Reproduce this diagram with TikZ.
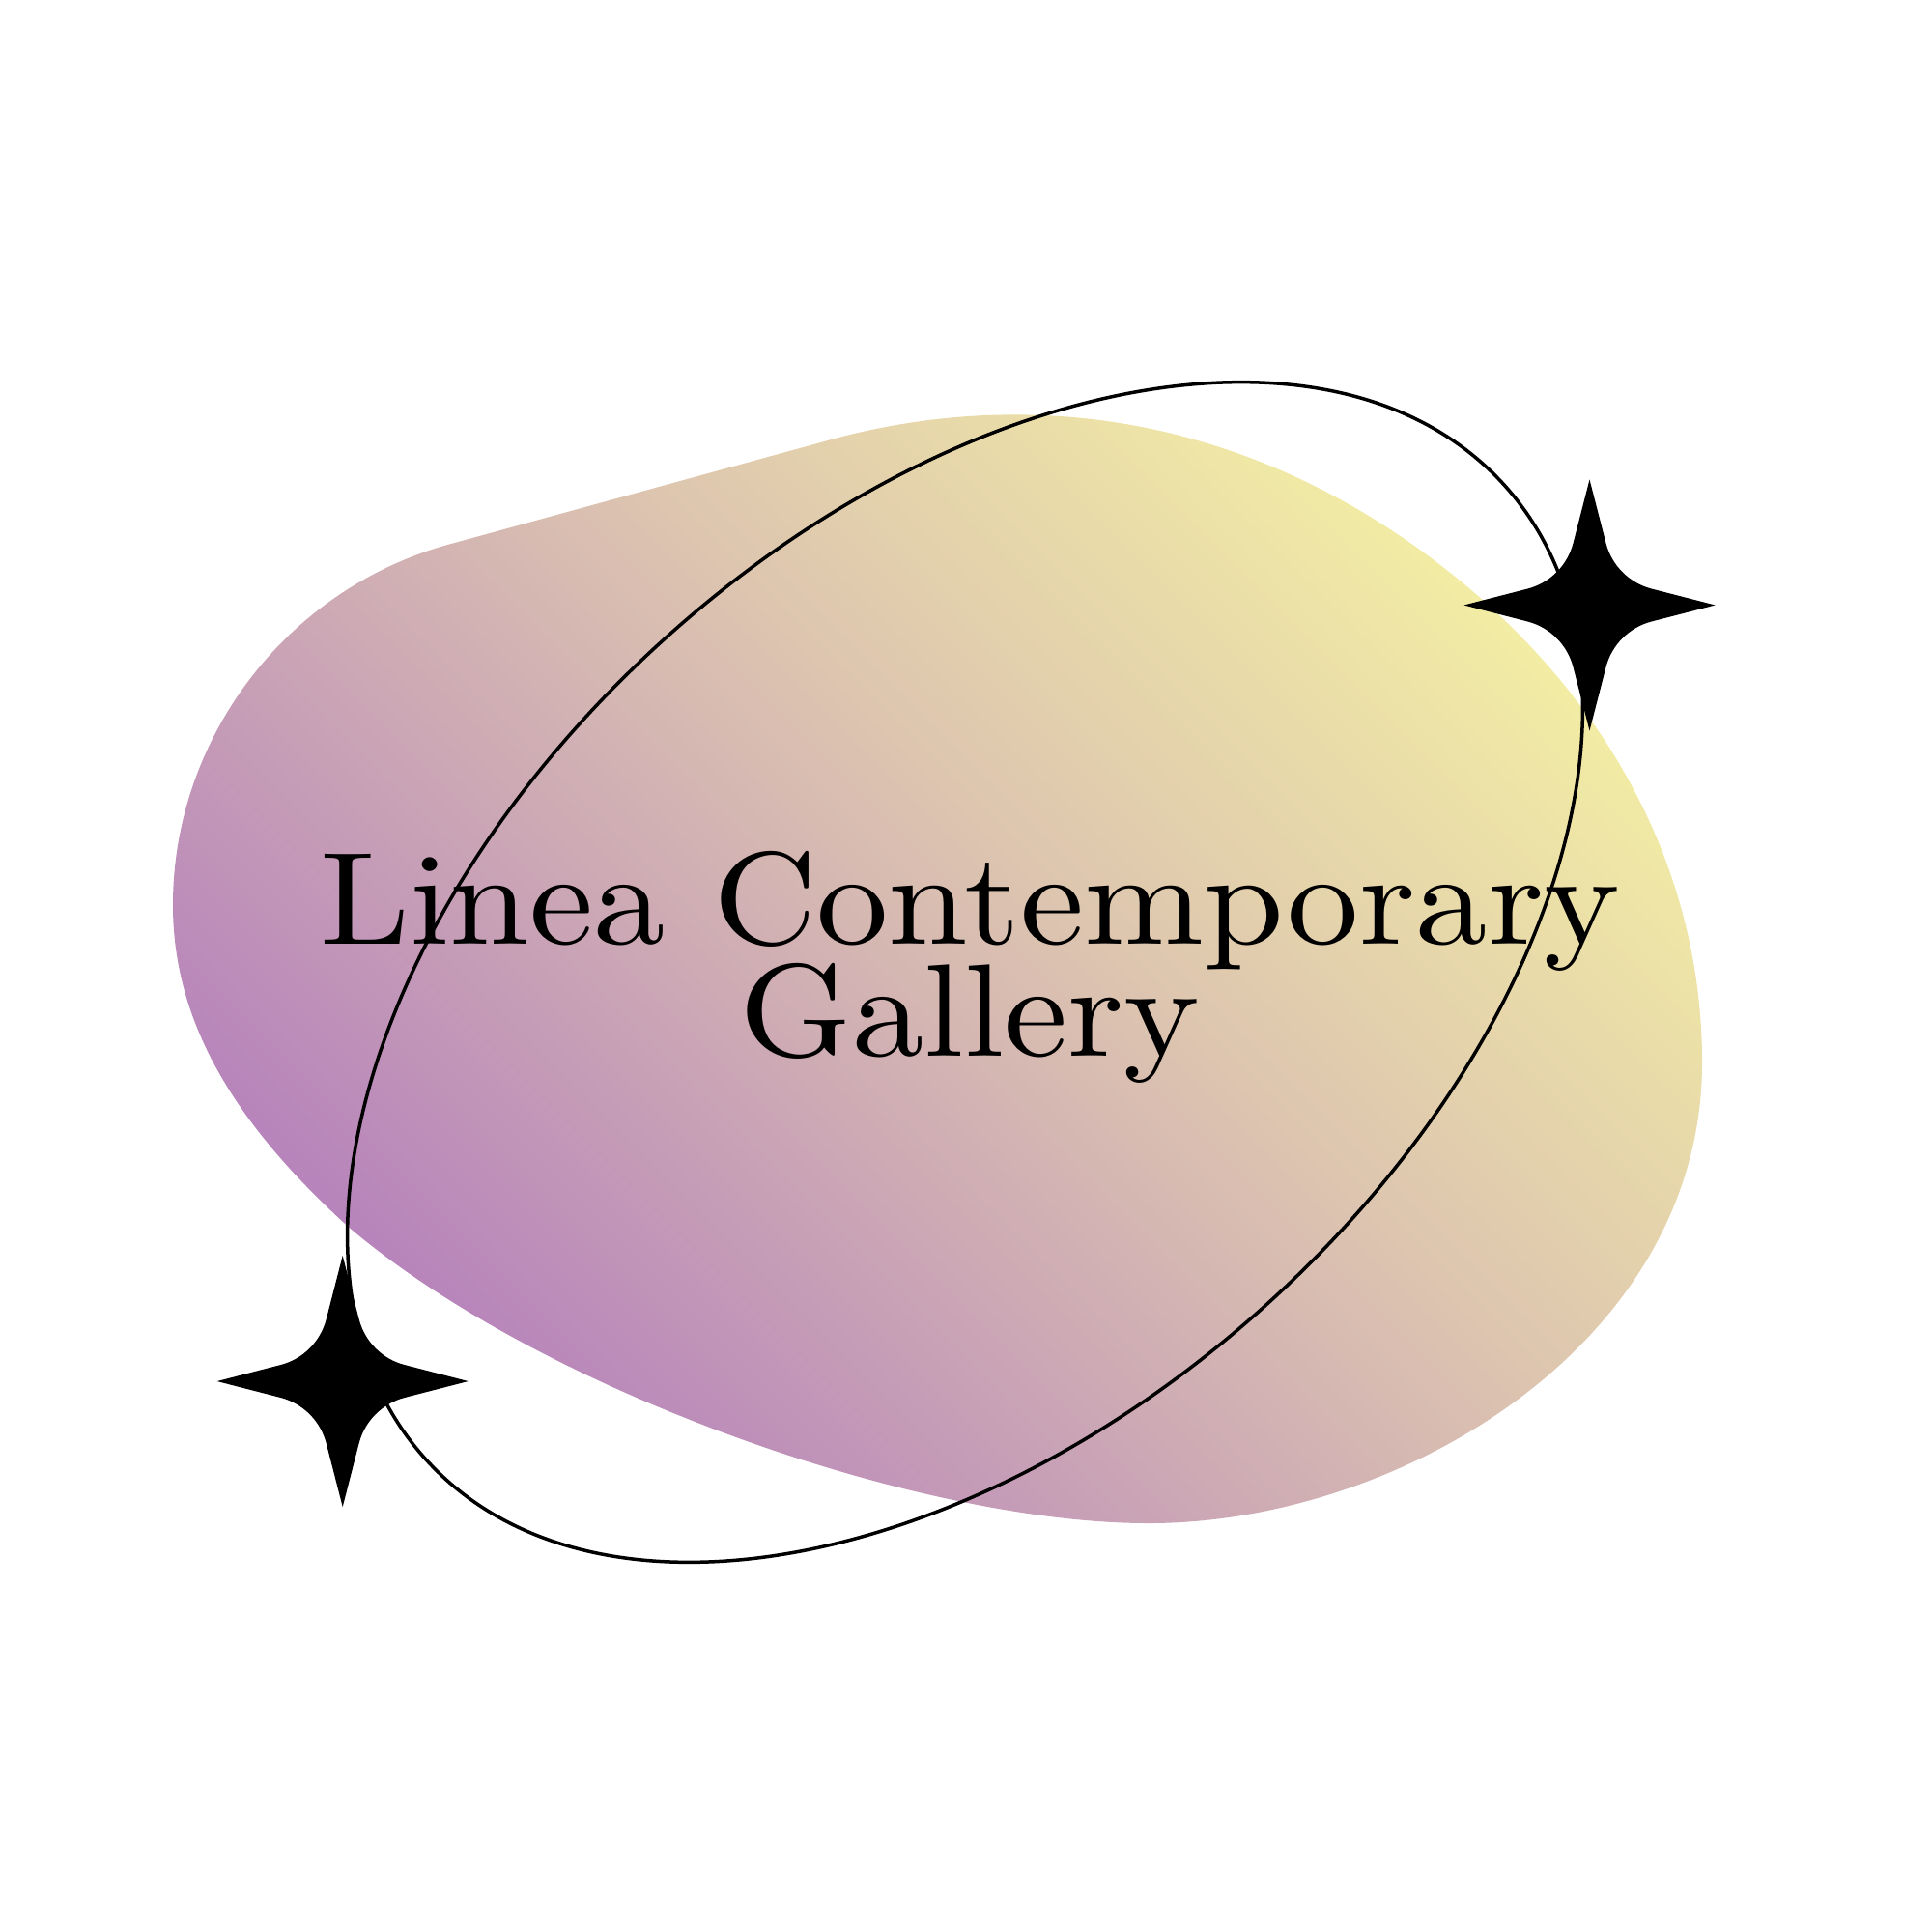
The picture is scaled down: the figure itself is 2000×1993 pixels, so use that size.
\documentclass[tikz,border=0pt]{standalone}
\usepackage{fontspec}
\setmainfont{lmroman10-regular.otf}[FakeStretch=1.09]
\definecolor{blobpurple}{HTML}{B784BB}
\definecolor{blobpeach}{HTML}{DCC3B0}
\definecolor{blobyellow}{HTML}{F4F0A3}
\pgfdeclarehorizontalshading{blobshade}{100bp}{
	color(0bp)=(blobpurple);
	color(32.1bp)=(blobpurple);
	color(52.55bp)=(blobpeach);
	color(69.6bp)=(blobyellow);
	color(100bp)=(blobyellow)
}
\newcommand{\titlefont}{\fontsize{38.8pt}{33pt}\selectfont\lineskiplimit=-100pt\relax}
\tikzset{
	orbit/.style={black,line width=3.5*0.2845pt},
	sparkle/.style={black,fill=black,draw=none},
	title/.style={font=\titlefont,align=center,inner sep=0pt,text=black}
}

\begin{document}
\begin{tikzpicture}[x=0.01cm,y=-0.01cm]
\useasboundingbox (0,0) rectangle (2000,1993);

% gradient shape
\begin{scope}
\clip (467,563) -- (868,453)
	.. controls (1100,393) and (1325,449) .. (1510,600)
	.. controls (1664,726) and (1762,900) .. (1762,1100)
	.. controls (1762,1390) and (1450,1577) .. (1189,1577)
	.. controls (950,1577) and (560,1440) .. (360.5,1270)
	.. controls (245,1165) and (179,1060) .. (179,937)
	.. controls (179,765) and (296,609) .. (467,563) -- cycle;
\shade[shading=blobshade,shading angle=45] (60,60) rectangle (1860,1860);
\end{scope}

\draw[orbit,rotate around={42.08:(999,1006.5)}] (999,1006.5) ellipse [x radius=7.519cm,y radius=4.643cm];

\foreach \sx/\sy in {1645.5/626.5, 354.7/1430}{
	\fill[sparkle,shift={(\sx,\sy)}] (130,0) -- (64,17) .. controls (41,23) and (23,41) .. (17,64)
		-- (0,130) -- (-17,64) .. controls (-23,41) and (-41,23) .. (-64,17)
		-- (-130,0) -- (-64,-17) .. controls (-41,-23) and (-23,-41) .. (-17,-64)
		-- (0,-130) -- (17,-64) .. controls (23,-41) and (41,-23) .. (64,-17) -- cycle;
}

\node[title] (gallerytitle) at (1004,1001) {Linea Contemporary\\Gallery};

\end{tikzpicture}
\end{document}
